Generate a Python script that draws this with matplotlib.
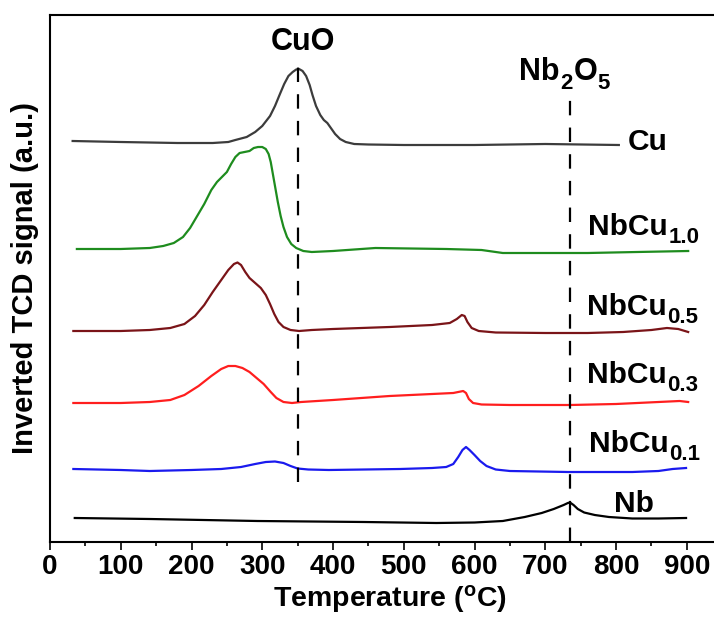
import matplotlib
matplotlib.use('Agg')
import matplotlib.pyplot as plt

plt.rcParams['font.family'] = ['Liberation Sans', 'DejaVu Sans']
plt.rcParams['font.weight'] = 'bold'
plt.rcParams['mathtext.fontset'] = 'custom'
plt.rcParams['mathtext.rm'] = 'Liberation Sans:bold'
plt.rcParams['mathtext.it'] = 'Liberation Sans:bold'
plt.rcParams['mathtext.bf'] = 'Liberation Sans:bold'

# Temperatures (C) and inverted TCD signal (a.u., stacked with offsets)
cu_t = [32, 100, 180, 230, 252, 262, 278, 290, 300, 311, 318, 325, 331, 337, 343, 348,
        352, 357, 362, 367, 371, 376, 382, 387, 392, 397, 403, 410, 418, 430, 450, 500,
        600, 700, 804]
cu_s = [401, 400, 399, 399, 400, 402, 405, 410, 416, 426, 436, 448, 458, 466, 470, 472.5,
        473, 471, 466, 457, 447, 436, 427, 422, 419, 414, 408, 403, 400, 398, 397.5, 397,
        397, 398, 397]

nbcu10_t = [38, 100, 141, 160, 175, 188, 198, 208, 218, 228, 236, 243, 250, 256, 262, 268,
            275, 282, 288, 294, 300, 305, 309, 312, 315, 318, 322, 326, 330, 335, 341, 348,
            358, 370, 400, 460, 560, 610, 640, 700, 760, 830, 902]
nbcu10_s = [293, 293, 294, 296, 299, 305, 314, 326, 338, 352, 360, 365, 370, 378, 385, 389,
            390, 391, 394, 395, 395, 393, 388, 380, 368, 356, 340, 326, 315, 305, 298, 294,
            291, 290, 291, 294, 293, 292, 289, 289, 289, 290, 291]

nbcu05_t = [33, 100, 141, 170, 190, 205, 218, 230, 242, 252, 260, 265, 270, 276, 282, 290,
            298, 305, 311, 317, 323, 330, 340, 352, 370, 400, 480, 540, 565, 575, 582, 586,
            590, 596, 606, 630, 700, 760, 810, 850, 872, 888, 902]
nbcu05_s = [211, 211, 212, 214, 218, 226, 237, 250, 262, 272, 278, 279.5, 277, 270, 264,
            259, 254, 247, 238, 228, 220, 215, 212, 211, 212, 213, 215, 217, 219, 223, 227,
            226, 220, 214, 211, 209.5, 209, 209, 210, 212, 214, 213, 210]

nbcu03_t = [33, 100, 141, 170, 190, 210, 228, 242, 252, 262, 272, 282, 292, 302, 312, 320,
            330, 342, 355, 400, 480, 540, 570, 584, 588, 592, 598, 610, 650, 735, 800, 860,
            890, 902]
nbcu03_s = [139, 139, 140, 142, 147, 156, 166, 173, 176, 176, 174, 170, 164, 158, 150, 144,
            140, 139, 140, 142, 146, 148, 149, 151, 149, 143, 139, 137.5, 137, 137, 138, 140,
            141, 140]

nbcu01_t = [33, 100, 141, 200, 242, 270, 290, 305, 318, 330, 340, 350, 365, 394, 495, 540,
            560, 570, 577, 583, 588, 593, 600, 608, 617, 630, 650, 732, 823, 860, 880, 899]
nbcu01_s = [73, 72, 71, 72, 73, 75, 78, 80, 80.5, 79, 76, 73.5, 72.5, 72, 73, 74, 75, 78,
            85, 92, 95, 92, 87, 81, 76, 72.5, 71, 70, 70, 71, 73, 74]

nb_t = [35, 141, 293, 444, 546, 600, 640, 671, 695, 712, 726, 732, 735, 740, 746, 755, 770,
        790, 823, 860, 899]
nb_s = [24, 23, 21, 20, 19, 19.5, 21, 25, 29, 33, 37, 39, 39.5, 37, 33, 29.5, 27, 25, 23.5,
        23.5, 24]

series = [
    (cu_t, cu_s, '#3c3c3c'),
    (nbcu10_t, nbcu10_s, '#1e8c1e'),
    (nbcu05_t, nbcu05_s, '#7a1418'),
    (nbcu03_t, nbcu03_s, '#ff1e1e'),
    (nbcu01_t, nbcu01_s, '#1a1aee'),
    (nb_t, nb_s, '#000000'),
]

# curve labels: main text, subscript, left x (C), baseline (a.u.)
label_main = ['Cu', 'NbCu', 'NbCu', 'NbCu', 'NbCu', 'Nb']
label_sub = ['', '1.0', '0.5', '0.3', '0.1', '']
label_x = [817, 760, 759, 759, 762, 797]
label_y = [392, 307, 227, 159, 90, 30]

# reference lines
cuo_x, cuo_top, cuo_bottom = 350, 482, 60
nb2o5_x, nb2o5_top, nb2o5_bottom = 735, 442, 0

fig = plt.figure(figsize=(7.14, 6.24), dpi=100)
ax = fig.add_axes([50 / 714, 82 / 624, 960 * 0.7075 / 714, 527 / 624])

for t, s, c in series:
    ax.plot(t, s, color=c, linewidth=1.6, solid_joinstyle='round')

dash = (0, (6.5, 5.5))
ax.plot([cuo_x, cuo_x], [cuo_bottom, cuo_top], color='black', linewidth=1.6, linestyle=dash)
ax.plot([nb2o5_x, nb2o5_x], [nb2o5_bottom, nb2o5_top], color='black', linewidth=1.6,
        linestyle=dash)


def add_sub(anchor, text, size):
    return ax.annotate(text, xy=(1, 0), xycoords=anchor, xytext=(0.5, -1.5),
                       textcoords='offset points', fontsize=size, fontweight='bold',
                       ha='left', va='baseline')


ax.text(358, 492, 'CuO', fontsize=22, fontweight='bold', ha='center', va='baseline')

nb = ax.text(663, 462, 'Nb', fontsize=22, fontweight='bold', ha='left', va='baseline')
two = add_sub(nb, '2', 16)
oo = ax.annotate('O', xy=(1, 0), xycoords=(two, nb), xytext=(0.5, 0),
                 textcoords='offset points', fontsize=22, fontweight='bold',
                 ha='left', va='bottom')
add_sub(oo, '5', 16)

for m, sb, x, y in zip(label_main, label_sub, label_x, label_y):
    t = ax.text(x, y, m, fontsize=21.5, fontweight='bold', ha='left', va='baseline')
    if sb:
        add_sub(t, sb, 16)

ax.set_xlim(0, 960)
ax.set_ylim(0, 527)
ax.set_xticks(range(0, 1000, 100))
ax.set_xticklabels([str(v) for v in range(0, 1000, 100)])
ax.set_xticks(range(50, 1000, 100), minor=True)
ax.set_yticks([])
ax.tick_params(axis='x', which='major', direction='out', length=6, width=1.2,
               labelsize=20, pad=3)
ax.tick_params(axis='x', which='minor', direction='out', length=3, width=1.2)
for sp in ax.spines.values():
    sp.set_linewidth(1.5)

ax.set_xlabel('Temperature ($^{o}$C)', fontsize=20.5, fontweight='bold', labelpad=2)
ax.set_ylabel('Inverted TCD signal (a.u.)', fontsize=21, fontweight='bold', labelpad=8)

fig.savefig('out.png', dpi=100)
